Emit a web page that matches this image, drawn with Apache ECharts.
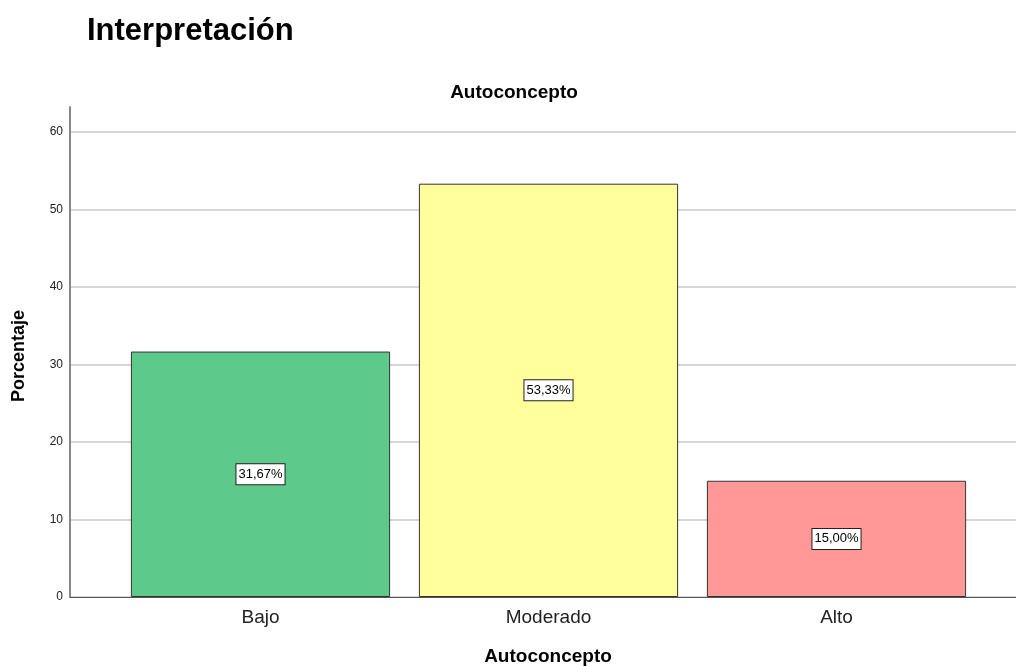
<!DOCTYPE html>
<html><head><meta charset="utf-8">
<script src="https://cdn.jsdelivr.net/npm/echarts@6/dist/echarts.min.js"></script>
<style>html,body{margin:0;padding:0;background:#fff}#c{width:1016px;height:666px}</style>
</head><body><div id="c"></div>
<script>
const categories = ['Bajo', 'Moderado', 'Alto'];
const values = [31.67, 53.33, 15.00];
const valueLabels = ['31,67%', '53,33%', '15,00%'];
const barColors = ['#5DC98A', '#FFFF9B', '#FF9896'];
const yTicks = [0, 10, 20, 30, 40, 50, 60];

const font = '"Liberation Sans", Arial, sans-serif';
const yMin = 0, yMax = 60;
const chart = echarts.init(document.getElementById('c'), null, {renderer: 'canvas'});
chart.setOption({
  animation: false,
  backgroundColor: '#fff',
  title: [
    {text: 'Interpretación', left: 82, top: 11, textStyle: {fontFamily: font, fontSize: 31, fontWeight: 'bold', color: '#000'}},
    {text: 'Autoconcepto', left: 509, top: 78, textAlign: 'center', textStyle: {fontFamily: font, fontSize: 19, fontWeight: 'bold', color: '#000'}}
  ],
  grid: [
    {left: 70, right: 0, top: 132, bottom: 69, outerBoundsMode: 'none', containLabel: false},
    {left: 116.5, right: 35.5, top: 132, bottom: 69, outerBoundsMode: 'none', containLabel: false},
    {left: 70, right: 0, top: 107, bottom: 69, outerBoundsMode: 'none', containLabel: false}
  ],
  xAxis: [
    {gridIndex: 0, type: 'category', data: [''], axisLine: {lineStyle: {color: '#555', width: 1}}, axisTick: {show: false}, axisLabel: {show: false},
     name: 'Autoconcepto', nameLocation: 'middle', nameGap: 50, nameTextStyle: {fontFamily: font, fontSize: 19, fontWeight: 'bold', color: '#000', padding: [0, 0, 0, 10]}},
    {gridIndex: 1, type: 'category', data: categories, axisLine: {show: false}, axisTick: {show: false},
     axisLabel: {fontFamily: font, fontSize: 19, color: '#222', margin: 11}},
    {gridIndex: 2, type: 'category', data: [''], show: false}
  ],
  yAxis: [
    {gridIndex: 0, type: 'value', min: yMin, max: yMax, interval: 10,
     axisLine: {show: false}, axisTick: {show: false},
     axisLabel: {fontFamily: font, fontSize: 12, color: '#222', margin: 7,
       formatter: v => yTicks.includes(v) ? String(v) : ''},
     splitLine: {lineStyle: {color: '#c8c8c8', width: 1.5}}},
    {gridIndex: 1, type: 'value', min: yMin, max: yMax, show: false, splitLine: {show: false}},
    {gridIndex: 2, type: 'value', min: 0, max: 1, axisLabel: {show: false}, axisTick: {show: false}, splitLine: {show: false},
     axisLine: {show: true, lineStyle: {color: '#888', width: 2}},
     name: 'Porcentaje', nameLocation: 'middle', nameGap: 42, nameRotate: 90,
     nameTextStyle: {fontFamily: font, fontSize: 18, fontWeight: 'bold', color: '#000', padding: [0, 0, 0, -8]}}
  ],
  series: [{
    type: 'bar', xAxisIndex: 1, yAxisIndex: 1, barWidth: '90%',
    data: values.map((v, i) => ({value: v, itemStyle: {color: barColors[i]}})),
    itemStyle: {borderColor: '#333', borderWidth: 1},
    label: {show: true, position: 'inside', formatter: p => valueLabels[p.dataIndex],
      fontFamily: font, fontSize: 13, color: '#000', backgroundColor: '#fff',
      borderColor: '#222', borderWidth: 1, padding: [4, 2, 3, 2]}
  }]
});
</script></body></html>
